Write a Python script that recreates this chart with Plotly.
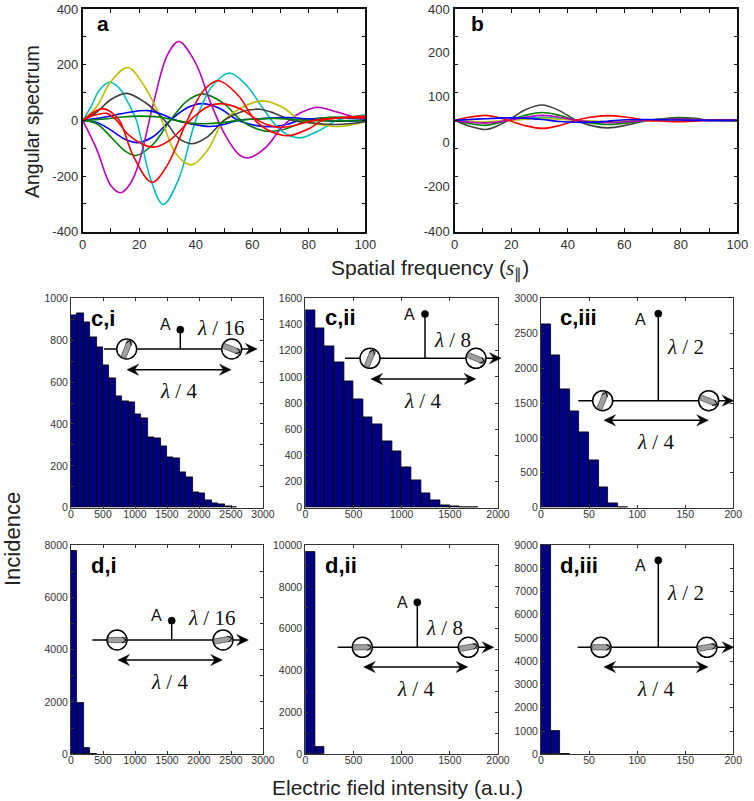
import math
import plotly.graph_objects as go

W, H = 754, 801
SANS = "Liberation Sans, Arial, sans-serif"
SERIF = "Liberation Serif, Times New Roman, serif"

# Panel a curves, knots
a_blue1_x = [0, 5, 10, 15, 19.5, 25, 31, 37, 42, 48, 55, 61, 67, 72, 77, 85, 92, 100]
a_blue1_y = [0, -8, -35, -68, -80, -58, 0, 45, 60, 45, 0, -18, -23, -15, 0, 8, 8, 5]
a_green1_x = [0, 5, 10, 15, 19, 25, 31, 37, 42.5, 50, 56, 62, 66, 72, 80, 90, 100]
a_green1_y = [0, -12, -60, -110, -126, -85, 0, 70, 95, 60, 0, -32, -40, -30, 0, 12, 5]
a_red1_x = [0, 4, 7, 10, 13, 18, 24.5, 30, 37, 43, 48, 55, 61, 67, 73, 80, 85, 92, 100]
a_red1_y = [0, 30, 42, 30, 0, -130, -223, -160, 0, 110, 142, 90, 0, -42, -55, -30, 0, 10, 15]
a_cyan_x = [0, 3, 6, 9.5, 13, 16, 19, 24, 28.5, 34, 40, 46, 52, 58, 64, 70, 76.5, 83, 90, 95, 100]
a_cyan_y = [0, 50, 110, 137, 115, 65, 0, -210, -302, -210, 0, 125, 170, 125, 40, -35, -63, -40, 0, 12, 20]
a_magenta_x = [0, 5, 10, 13.5, 17, 20, 25, 30, 34, 40, 45, 50, 55, 58.5, 65, 70, 75, 80, 83, 90, 95, 100]
a_magenta_y = [0, -105, -235, -260, -225, -150, 60, 235, 283, 205, 70, -45, -120, -135, -95, -30, 15, 40, 47, 30, 15, 5]
a_yellow_x = [0, 5, 10, 16, 22, 28, 33, 38.5, 44, 50, 57, 64, 71, 77, 84, 91, 100]
a_yellow_y = [0, 50, 140, 190, 120, 0, -120, -160, -110, 0, 50, 70, 45, 0, -15, -22, -5]
a_gray_x = [0, 5, 10, 15.5, 22, 29, 34, 38.5, 44, 50, 56, 62.5, 68, 74, 82, 90, 100]
a_gray_y = [0, 30, 75, 97, 65, 0, -65, -84, -60, 0, 30, 40, 25, 0, -10, -15, -5]
a_blue2_x = [0, 8, 16, 23, 28, 33, 38, 45, 50, 55, 63, 72, 80, 90, 100]
a_blue2_y = [0, 12, 28, 35, 22, 0, -12, -22, -15, 0, 6, 10, 5, -3, 0]
a_green2_x = [0, 8, 14, 20, 27, 33, 38, 43, 49, 55, 62, 68, 75, 85, 100]
a_green2_y = [0, 5, 12, 15, 12, 0, -10, -12, -9, 0, 5, 7, 3, -2, 0]
a_red2_x = [0, 4, 8.5, 12, 16, 21, 25.5, 31, 38, 44, 49, 56, 62, 66, 70, 75, 82, 90, 100]
a_red2_y = [0, 18, 25, 0, -50, -85, -96, -70, 0, 48, 60, 40, 0, -18, -25, -18, 0, 8, 10]

# Panel b curves
b_x = [0, 5, 11, 15, 19, 25, 31, 37, 43, 48, 54, 61, 68, 74, 79, 85, 90, 95, 100]
b_gray = [0, -20, -33, -20, 0, 38, 55, 35, 0, -18, -27, -17, 0, 6, 10, 7, 0, 0, 0]
b_green = [0, -11, -18, -10, 0, 18, 28, 18, 0, -9, -15, -9, 0, 5, 8, 5, 0, 0, 0]
b_magenta = [0, -6, -10, -6, 0, 11, 18, 11, 0, -5, -8, -5, 0, 3, 5, 3, 0, 0, 0]
b_cyan = [0, -4, -7, -4, 0, 6, 11, 6, 0, -4, -6, -4, 0, 2, 3, 2, 0, 0, 0]
b_yellow = [0, -3, -5, -3, 0, 4, 7, 4, 0, -2, -4, -2, 0, 1, 2, 1, 0, 0, 0]
b_blue = [0, 3, 6, 8, 9, 8, 3, -4, -7, -7, -3, 2, 3, 2, 1, 0, 0, 0, 0]
b_red = [0, 11, 18, 11, 0, -19, -29, -19, 0, 11, 17, 11, 0, -3, -5, -3, 0, 0, 0]

# the labels of panel b sit away from its tick marks in the original
b_label_vals = [400, 244, 85, -80, -238, -400]
b_label_text = ["400", "200", "100", "0", "-200", "-400"]

# Histogram counts
ci_counts = [920, 928, 885, 815, 765, 681, 616, 533, 509, 505, 447, 428, 337, 331, 293, 242, 236, 167, 143, 73, 70, 33,
             19, 16, 5, 2]
cii_counts = [1508, 1370, 1233, 1108, 963, 825, 688, 637, 510, 428, 306, 209, 112, 59, 20, 10, 3, 1]
ciii_counts = [2622, 2187, 1696, 1380, 1080, 678, 287, 62, 10]
di_counts = [7780, 1960, 230, 15]
dii_counts = [9660, 335]
diii_counts = [9000, 990, 15]

BLUE, GREEN, RED, CYAN, MAGENTA, YELLOW, GRAY = "#0000ff", "#008000", "#ff0000", "#00bfbf", "#bf00bf", "#bfbf00", "#404040"

fig = go.Figure()


def px_x(x):
    return x / W


def px_y(y):
    return 1 - y / H


def labelled(lo, hi, tick_step, label_step):
    # every tick gets a mark, only some get text
    vals = list(range(lo, hi + 1, tick_step))
    return vals, [str(v) if (v - lo) % label_step == 0 else "" for v in vals]


# axis helper, box given in pixels
def add_axes(n, box, xr, yr, x_steps, y_steps, size, lw, ticklen, color, standoff=0, show_y=True):
    x0, x1, y0, y1 = box
    font = dict(family=SANS, size=size, color="#333333")
    xvals, xtext = labelled(xr[0], xr[1], x_steps[0], x_steps[1])
    yvals, ytext = labelled(yr[0], yr[1], y_steps[0], y_steps[1])
    common = dict(ticks="inside", ticklen=ticklen, tickwidth=1.2, tickcolor=color, automargin=False, mirror="ticks",
                  showline=True, linecolor=color, linewidth=lw, showgrid=False, zeroline=False, tickfont=font)
    xa = dict(domain=[px_x(x0), px_x(x1)], range=xr, tickvals=xvals, ticktext=xtext, ticklabelstandoff=standoff,
              anchor=f"y{n}" if n > 1 else "y", **common)
    ya = dict(domain=[px_y(y1), px_y(y0)], range=yr, tickvals=yvals, ticktext=ytext, showticklabels=show_y,
              anchor=f"x{n}" if n > 1 else "x", **common)
    suffix = str(n) if n > 1 else ""
    fig.update_layout({f"xaxis{suffix}": xa, f"yaxis{suffix}": ya})


def add_curve(n, x, y, color):
    fig.add_trace(go.Scatter(x=x, y=y, mode="lines", xaxis=f"x{n}" if n > 1 else "x", yaxis=f"y{n}" if n > 1 else "y",
                             line=dict(color=color, width=1.6, shape="spline", smoothing=1), showlegend=False))


def add_hist(n, counts, width):
    centers = [width * (i + 0.5) for i in range(len(counts))]
    fig.add_trace(go.Bar(x=centers, y=counts, width=width, xaxis=f"x{n}", yaxis=f"y{n}", showlegend=False,
                         marker=dict(color="#000080", line=dict(color="#000000", width=0.8))))


curves_a = [(a_blue1_x, a_blue1_y, BLUE), (a_green1_x, a_green1_y, GREEN), (a_cyan_x, a_cyan_y, CYAN),
            (a_magenta_x, a_magenta_y, MAGENTA), (a_yellow_x, a_yellow_y, YELLOW), (a_gray_x, a_gray_y, GRAY),
            (a_blue2_x, a_blue2_y, BLUE), (a_green2_x, a_green2_y, GREEN), (a_red2_x, a_red2_y, RED),
            (a_red1_x, a_red1_y, RED)]
for cx, cy, col in curves_a:
    add_curve(1, cx, cy, col)
for vals, col in [(b_gray, GRAY), (b_cyan, CYAN), (b_yellow, YELLOW), (b_green, GREEN), (b_magenta, MAGENTA),
                  (b_red, RED), (b_blue, BLUE)]:
    add_curve(2, b_x, vals, col)

add_axes(1, (82.7, 365.3, 9, 231.7), [0, 100], [-400, 400], (10, 20), (100, 200), 13, 1.5, 4, "#111111")
add_axes(2, (454.7, 737.3, 9, 231.7), [0, 100], [-400, 400], (10, 20), (100, 200), 13, 1.5, 4, "#111111", show_y=False)
fig.update_layout(yaxis9=dict(domain=[px_y(231.7), px_y(9)], range=[-400, 400], overlaying="y2", anchor="x2", side="left",
                              tickvals=b_label_vals, ticktext=b_label_text, ticks="", showline=False, showgrid=False,
                              zeroline=False, automargin=False, ticklabelstandoff=4,
                              tickfont=dict(family=SANS, size=13, color="#333333")))
fig.add_trace(go.Scatter(x=[0], y=[0], mode="lines", xaxis="x2", yaxis="y9", showlegend=False, hoverinfo="skip"))

hist_panels = [
    (3, (71, 263, 298.3, 507.7), ci_counts, 100, [0, 3000], [0, 1000], (500, 500), (100, 200), -3),
    (4, (305.3, 498, 298.3, 507.7), cii_counts, 100, [0, 2000], [0, 1600], (500, 500), (200, 200), -3),
    (5, (541, 733.3, 298.3, 507.7), ciii_counts, 10, [0, 200], [0, 3000], (50, 50), (500, 500), -3),
    (6, (71, 263, 545, 754.3), di_counts, 100, [0, 3000], [0, 8000], (500, 500), (1000, 2000), -4),
    (7, (305.3, 498, 545, 754.3), dii_counts, 100, [0, 2000], [0, 10000], (500, 500), (1000, 2000), -4),
    (8, (541, 733.3, 545, 754.3), diii_counts, 10, [0, 200], [0, 9000], (50, 50), (1000, 1000), -4),
]
for n, box, counts, bw, xr, yr, xs, ys, so in hist_panels:
    add_hist(n, counts, bw)
    add_axes(n, box, xr, yr, xs, ys, 10.5, 1, 3, "#333333", standoff=so)

shapes = []
annotations = []


def path_of(points):
    return "M " + " L ".join(f"{px_x(x):.5f},{px_y(y):.5f}" for x, y in points) + " Z"


def line(x0, y0, x1, y1, width=1.5, color="#000000"):
    shapes.append(dict(type="line", xref="paper", yref="paper", x0=px_x(x0), y0=px_y(y0), x1=px_x(x1), y1=px_y(y1),
                       line=dict(color=color, width=width)))


def head(tip_x, y, direction):
    # notched arrow head, direction +1 points right
    pts = [(tip_x, y), (tip_x - direction * 11.5, y - 5.5), (tip_x - direction * 7.5, y), (tip_x - direction * 11.5, y + 5.5)]
    shapes.append(dict(type="path", xref="paper", yref="paper", path=path_of(pts),
                       fillcolor="#000000", line=dict(color="#000000", width=0.5)))


def disc(cx, cy, r, fill, width=1.5):
    shapes.append(dict(type="circle", xref="paper", yref="paper", x0=px_x(cx - r), x1=px_x(cx + r),
                       y0=px_y(cy + r), y1=px_y(cy - r), fillcolor=fill, line=dict(color="#000000", width=width)))


def polarizer(cx, cy, angle):
    disc(cx, cy, 10, "#ffffff")
    a = math.radians(angle)
    ux, uy = math.cos(a), -math.sin(a)
    vx, vy = -uy, ux
    hl, hw = 9, 2.6
    pts = [(cx + sx * hl * ux + sy * hw * vx, cy + sx * hl * uy + sy * hw * vy)
           for sx, sy in [(-1, -1), (1, -1), (1, 1), (-1, 1)]]
    shapes.append(dict(type="path", xref="paper", yref="paper", path=path_of(pts),
                       fillcolor="#a0a0a0", line=dict(color="#444444", width=0.7)))
    # small pointer at the end of the bar
    tip = (cx + hl * ux, cy + hl * uy)
    for side in (-1, 1):
        line(tip[0], tip[1], tip[0] - 4 * ux + side * 3 * vx, tip[1] - 4 * uy + side * 3 * vy, 1)


def text(x, y, s, size, family=SANS, color="#111111", anchor="center", angle=0):
    annotations.append(dict(xref="paper", yref="paper", x=px_x(x), y=px_y(y), text=s, showarrow=False, textangle=angle,
                            xanchor=anchor, yanchor="middle", font=dict(family=family, size=size, color=color)))


def inset(label, label_x, label_y, ly, x0, tip, cl, cr, al, ar, stem, dot_y, a_pos, frac, frac_pos, dy, dl, dr, q_pos):
    text(label_x, label_y, f"<b>{label}</b>", 22, color="#000000", anchor="left")
    line(x0, ly, tip - 6, ly)
    head(tip, ly, 1)
    line(stem, ly, stem, dot_y)
    disc(stem, dot_y, 3.6, "#000000", 0.5)
    polarizer(cl, ly, al)
    polarizer(cr, ly, ar)
    line(dl + 6, dy, dr - 6, dy)
    head(dl, dy, -1)
    head(dr, dy, 1)
    text(a_pos[0], a_pos[1], "A", 16)
    lam = "<i>λ</i> / "
    text(frac_pos[0], frac_pos[1], lam + frac, 21, SERIF)
    text(q_pos[0], q_pos[1], lam + "4", 21, SERIF)


inset("c,i", 88.5, 318, 349, 104, 257, 126.7, 231.7, 68, -22, 180.3, 329.7, (165, 324), "16", (220, 328),
      369.7, 127, 231, (178, 391))
inset("c,ii", 323, 317, 358.3, 345, 501, 370, 476, 68, -22, 425, 314, (410, 314), "8", (452.3, 340),
      379, 371, 475.7, (422.3, 401))
inset("c,iii", 558, 317, 400.7, 578.3, 733.7, 602.7, 708.7, 68, -22, 658.3, 313.7, (640, 319.3), "2", (685, 346.7),
      420.3, 604, 708.3, (655, 442.3))
inset("d,i", 88.7, 565, 640, 92.3, 248.3, 117, 223, 0, 10, 171.7, 620.7, (156.7, 615.3), "16", (211.7, 618.3),
      660, 118, 222.3, (169.3, 681.7))
inset("d,ii", 323, 565, 647.3, 337.7, 493.7, 362.3, 468.3, 0, 10, 417.3, 602.3, (402.3, 602.3), "8", (444.3, 628.3),
      667, 363.7, 467.7, (415, 688.7))
inset("d,iii", 558, 565, 647.3, 577.7, 733.7, 601, 707, 0, 10, 658.3, 560.3, (640, 565), "2", (685, 592.7),
      667, 604, 708, (655, 688.7))

text(95, 24, "<b>a</b>", 21, color="#000000", anchor="left")
text(469, 24, "<b>b</b>", 21, color="#000000", anchor="left")

# shared axis titles
text(32, 122, "Angular spectrum", 19.5, color="#222222", angle=-90)
text(12, 539, "Incidence", 22, color="#222222", angle=-90)
text(430, 270, "Spatial frequency (<i><span style=\"font-family:Liberation Serif\">s</span></i><sub>∥</sub>)", 21,
     color="#222222")
text(397, 787, "Electric field intensity (a.u.)", 21, color="#222222")

fig.update_layout(width=W, height=H, margin=dict(l=0, r=0, t=0, b=0), paper_bgcolor="#ffffff", plot_bgcolor="#ffffff",
                  shapes=shapes, annotations=annotations, bargap=0, showlegend=False)

fig.write_html("out.html", config={"displayModeBar": False}, post_script="document.body.style.margin='0';")
